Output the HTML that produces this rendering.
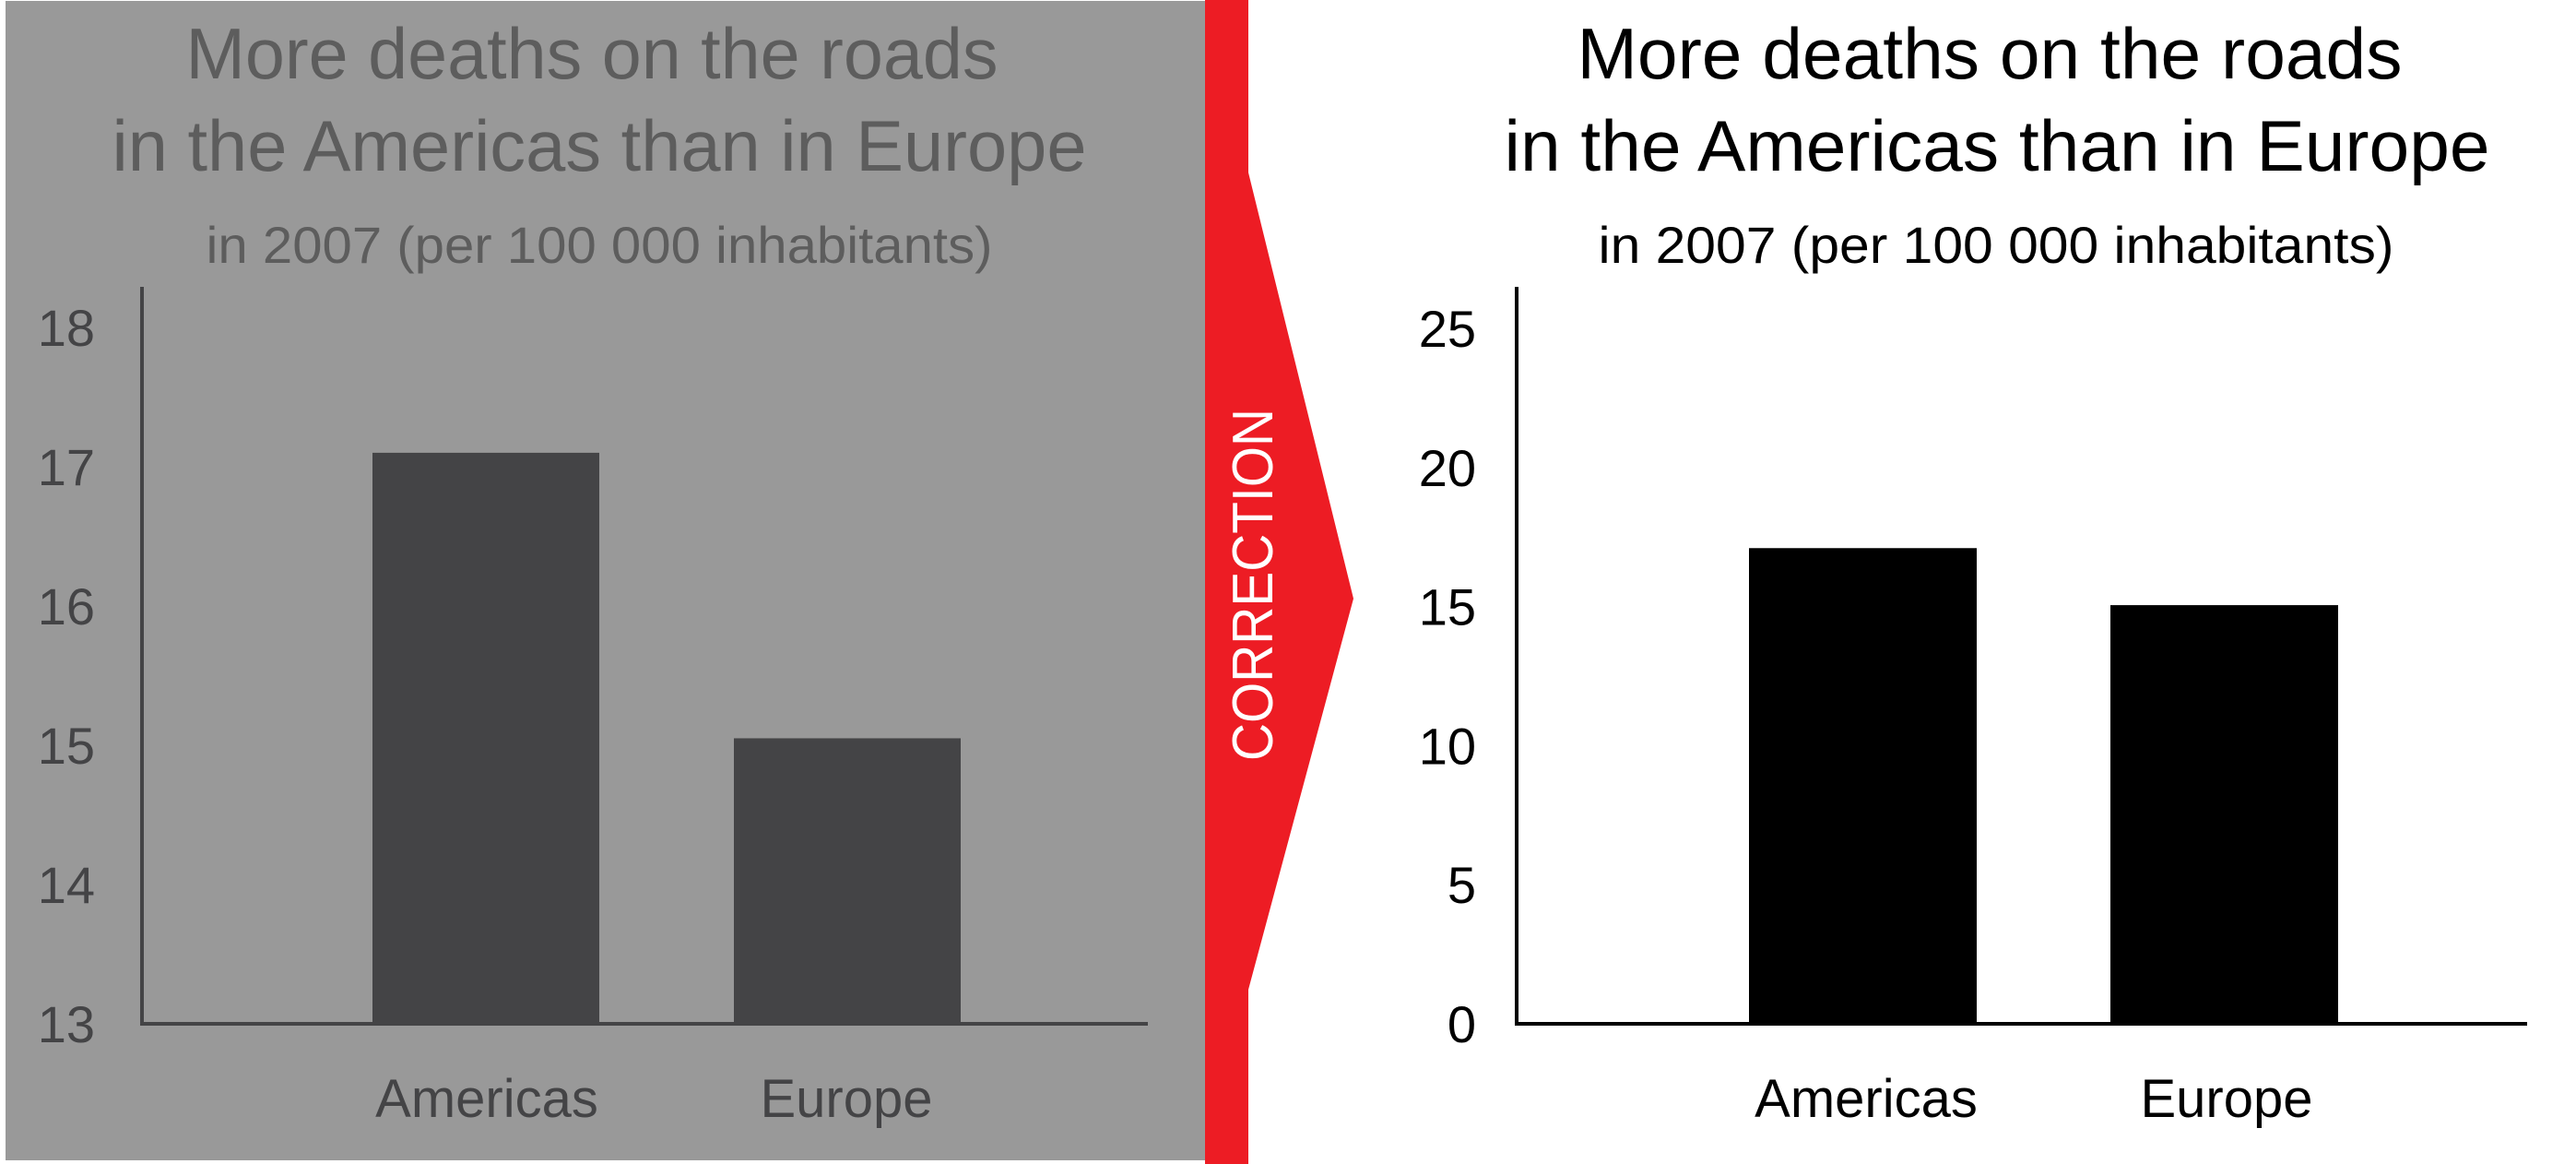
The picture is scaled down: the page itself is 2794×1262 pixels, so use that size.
<!DOCTYPE html>
<html><head><meta charset="utf-8"><style>
html,body{margin:0;padding:0;background:#fff;}
svg{display:block;}
text{font-family:"Liberation Sans",sans-serif;}
</style></head><body>
<svg id="c" width="2794" height="1262" viewBox="0 0 2794 1262">
<rect x="6" y="1" width="1301" height="1257" fill="#999999"/>
<polygon points="1307,0 1354,0 1354,187 1468,649 1354,1073 1354,1262 1307,1262" fill="#ed1c24"/>
<text x="0" y="0" transform="translate(1380,634) rotate(-90)" text-anchor="middle" font-size="62" fill="#fff" textLength="382" lengthAdjust="spacingAndGlyphs">CORRECTION</text>

<g fill="#5d5d5d" text-anchor="middle">
<text x="642" y="85" font-size="78" textLength="881" lengthAdjust="spacingAndGlyphs">More deaths on the roads</text>
<text x="650" y="185" font-size="78" textLength="1057" lengthAdjust="spacingAndGlyphs">in the Americas than in Europe</text>
<text x="650" y="285" font-size="56" textLength="853" lengthAdjust="spacingAndGlyphs">in 2007 (per 100 000 inhabitants)</text>
</g>
<g fill="#000" text-anchor="middle">
<text x="2158" y="85" font-size="78" textLength="895" lengthAdjust="spacingAndGlyphs">More deaths on the roads</text>
<text x="2166" y="185" font-size="78" textLength="1069" lengthAdjust="spacingAndGlyphs">in the Americas than in Europe</text>
<text x="2165" y="285" font-size="56" textLength="863" lengthAdjust="spacingAndGlyphs">in 2007 (per 100 000 inhabitants)</text>
</g>
<g id="left"></g>
<g id="right"></g>
</svg>
<script>
const categories = ["Americas", "Europe"];
const values = [17.1, 15.05];
const leftTicks = [13, 14, 15, 16, 17, 18];
const rightTicks = [0, 5, 10, 15, 20, 25];
const NS = "http://www.w3.org/2000/svg";
function mk(tag, attrs, parent, txt) {
  const e = document.createElementNS(NS, tag);
  for (const k in attrs) e.setAttribute(k, attrs[k]);
  if (txt !== undefined) e.textContent = txt;
  parent.appendChild(e);
  return e;
}
function draw(g, cfg) {
  const y = v => cfg.y0 - (v - cfg.min) / (cfg.max - cfg.min) * (cfg.y0 - cfg.yTop);
  cfg.ticks.forEach(t => {
    const el = mk("text", {x: cfg.labelX, y: y(t) + 20, "text-anchor": "end", "font-size": 56, fill: cfg.text}, g, String(t));
    
    
  });
  categories.forEach((c, i) => {
    const x = cfg.barX[i];
    const b = mk("rect", {x: x, y: y(values[i]), width: cfg.barW, height: cfg.y0 - y(values[i]), fill: cfg.bar}, g);
    
    
    const l = mk("text", {x: cfg.catX[i], y: 1211, "text-anchor": "middle", "font-size": 58, fill: cfg.text}, g, c);
    
    
  });
  const ya = mk("line", {x1: cfg.axisX, y1: 311, x2: cfg.axisX, y2: cfg.y0 + 2, stroke: cfg.axis, "stroke-width": 4}, g);
  
  
  const xa = mk("line", {x1: cfg.axisX, y1: cfg.y0, x2: cfg.axisEnd, y2: cfg.y0, stroke: cfg.axis, "stroke-width": 4}, g);
  
  
}
draw(document.getElementById("left"), {min: 13, max: 18, y0: 1110, yTop: 355, ticks: leftTicks, labelX: 103,
  barX: [404, 796], barW: 246, catX: [528, 918], axisX: 154, axisEnd: 1245, bar: "#444446", text: "#444446", axis: "#444446"});
draw(document.getElementById("right"), {min: 0, max: 25, y0: 1110, yTop: 356, ticks: rightTicks, labelX: 1601,
  barX: [1897, 2289], barW: 247, catX: [2024, 2415], axisX: 1645, axisEnd: 2741, bar: "#000", text: "#000", axis: "#000"});
</script>
</body></html>
